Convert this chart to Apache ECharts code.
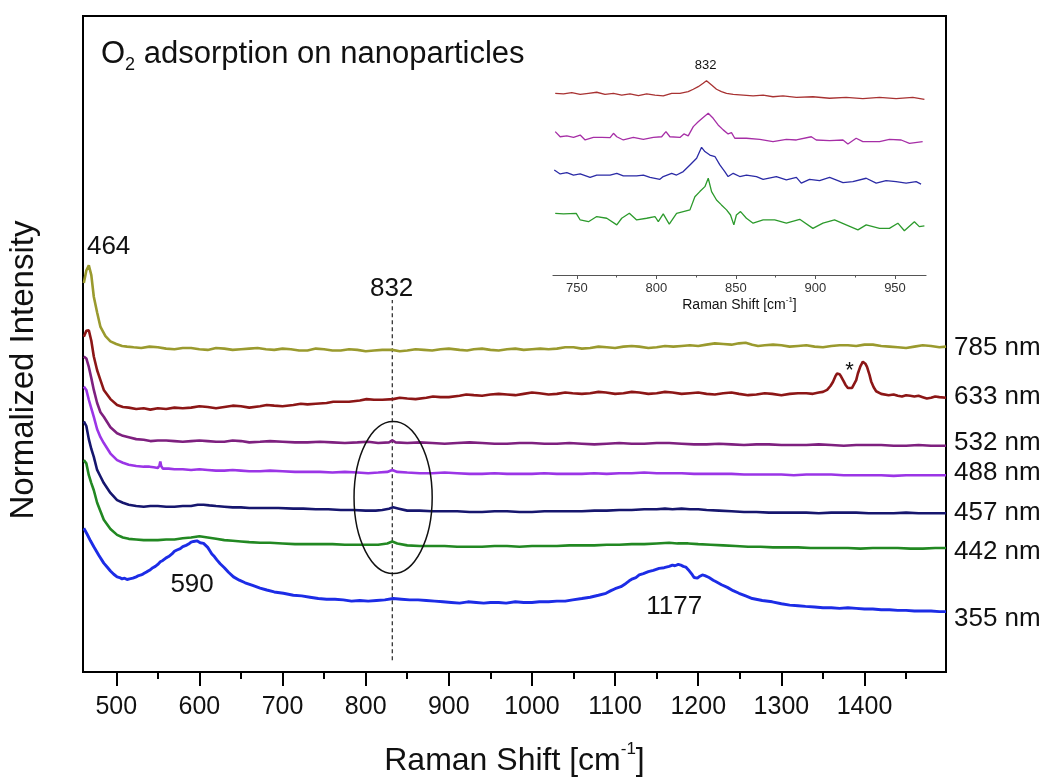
<!DOCTYPE html>
<html>
<head>
<meta charset="utf-8">
<title>O2 adsorption on nanoparticles</title>
<script src="https://cdn.jsdelivr.net/npm/echarts@6/dist/echarts.min.js"></script>
<style>
  html, body { margin: 0; padding: 0; background: #fff; }
  #chart { width: 1046px; height: 778px; }
</style>
</head>
<body>
<div id="chart"></div>
<script>
// main spectra, [Raman shift (cm-1), normalized intensity + stack offset]
const spec785 = [[461, 59.3], [464, 61.2], [467, 62.0], [470, 60.5], [473, 57.2], [477, 54.8], [481, 52.6], [487, 51.2], [493, 50.4], [500, 50.0], [507, 49.7], [513, 49.6], [521, 49.5], [530, 49.4], [540, 49.6], [550, 49.5], [560, 49.3], [570, 49.2], [580, 49.4], [590, 49.4], [600, 49.2], [610, 49.1], [620, 49.4], [630, 49.3], [640, 49.1], [650, 49.2], [660, 49.3], [670, 49.4], [680, 49.2], [690, 49.1], [700, 49.3], [710, 49.2], [720, 49.0], [730, 49.0], [740, 49.3], [750, 49.2], [760, 49.0], [770, 49.0], [780, 49.2], [790, 49.1], [800, 48.9], [810, 49.0], [820, 49.1], [832, 49.1], [841, 48.9], [850, 49.0], [860, 49.2], [870, 49.1], [880, 49.0], [890, 49.2], [900, 49.3], [913, 49.1], [922, 49.0], [930, 49.2], [940, 49.3], [950, 49.1], [960, 49.0], [970, 49.2], [980, 49.3], [990, 49.1], [1000, 49.2], [1010, 49.3], [1020, 49.2], [1030, 49.3], [1040, 49.5], [1050, 49.5], [1060, 49.3], [1070, 49.4], [1080, 49.6], [1090, 49.5], [1100, 49.4], [1110, 49.6], [1120, 49.7], [1129, 49.6], [1140, 49.4], [1150, 49.5], [1160, 49.7], [1170, 49.6], [1180, 49.7], [1190, 49.8], [1200, 49.7], [1210, 49.9], [1220, 50.1], [1230, 50.0], [1240, 49.9], [1249, 50.1], [1257, 50.2], [1265, 49.9], [1272, 49.7], [1280, 49.8], [1290, 49.9], [1300, 49.8], [1310, 49.6], [1320, 49.7], [1330, 49.8], [1340, 49.6], [1350, 49.5], [1360, 49.7], [1370, 49.8], [1380, 49.8], [1390, 49.7], [1400, 49.9], [1410, 49.9], [1420, 49.7], [1430, 49.6], [1440, 49.5], [1450, 49.4], [1460, 49.6], [1470, 49.8], [1480, 49.7], [1490, 49.5], [1498, 49.6]];
const spec633 = [[461, 51.1], [464, 52.0], [467, 52.1], [470, 50.5], [473, 48.1], [477, 46.0], [481, 44.5], [485, 43.0], [493, 41.6], [501, 40.7], [508, 40.4], [515, 40.3], [524, 40.1], [533, 40.2], [541, 40.0], [550, 40.2], [560, 40.1], [570, 40.3], [580, 40.2], [590, 40.3], [600, 40.5], [610, 40.4], [620, 40.2], [630, 40.4], [640, 40.6], [650, 40.5], [660, 40.3], [673, 40.5], [681, 40.7], [690, 40.6], [700, 40.5], [713, 40.7], [722, 40.9], [730, 40.8], [740, 40.9], [753, 41.0], [761, 41.2], [770, 41.2], [780, 41.2], [793, 41.4], [801, 41.6], [810, 41.5], [820, 41.5], [833, 41.6], [841, 41.8], [850, 41.7], [860, 41.6], [873, 41.8], [881, 42.0], [890, 41.9], [900, 41.9], [913, 42.1], [921, 42.3], [930, 42.2], [940, 42.1], [950, 42.3], [960, 42.4], [970, 42.3], [980, 42.2], [990, 42.4], [1000, 42.6], [1009, 42.5], [1020, 42.3], [1030, 42.4], [1040, 42.6], [1049, 42.5], [1060, 42.4], [1070, 42.5], [1080, 42.7], [1089, 42.6], [1100, 42.4], [1110, 42.5], [1120, 42.7], [1129, 42.6], [1140, 42.4], [1150, 42.5], [1160, 42.7], [1169, 42.6], [1180, 42.4], [1190, 42.5], [1200, 42.6], [1210, 42.4], [1220, 42.3], [1230, 42.5], [1240, 42.6], [1249, 42.4], [1260, 42.2], [1270, 42.3], [1280, 42.5], [1289, 42.4], [1300, 42.2], [1310, 42.4], [1320, 42.5], [1330, 42.5], [1338, 42.4], [1345, 42.6], [1350, 42.7], [1355, 43.0], [1359, 43.6], [1362, 44.2], [1365, 45.1], [1367, 45.5], [1370, 45.4], [1372, 45.0], [1375, 44.3], [1377, 43.8], [1380, 43.3], [1382, 43.2], [1385, 43.3], [1387, 43.6], [1390, 44.5], [1392, 45.5], [1395, 46.6], [1398, 47.3], [1401, 47.0], [1403, 46.5], [1406, 45.3], [1408, 44.3], [1411, 43.4], [1414, 42.8], [1420, 42.4], [1429, 42.2], [1435, 42.3], [1440, 42.1], [1445, 42.0], [1450, 42.2], [1455, 42.1], [1460, 42.0], [1465, 42.1], [1470, 41.9], [1475, 41.7], [1480, 41.8], [1485, 42.0], [1490, 41.9], [1498, 41.8]];
const spec532 = [[461, 48.1], [464, 47.8], [467, 46.5], [470, 44.8], [473, 43.0], [477, 41.0], [481, 39.6], [485, 38.9], [493, 37.3], [501, 36.4], [508, 36.0], [515, 35.8], [524, 35.5], [533, 35.4], [541, 35.2], [550, 35.3], [560, 35.3], [570, 35.2], [580, 35.1], [590, 35.2], [600, 35.3], [610, 35.2], [620, 35.1], [630, 35.1], [640, 35.3], [650, 35.2], [660, 35.0], [673, 35.1], [685, 35.2], [700, 35.1], [715, 35.0], [730, 35.0], [745, 35.1], [760, 35.0], [775, 34.9], [790, 35.0], [803, 35.1], [815, 34.9], [828, 35.0], [832, 35.3], [836, 35.0], [850, 34.9], [865, 35.0], [880, 34.9], [895, 34.8], [910, 34.9], [925, 35.0], [940, 34.9], [955, 34.8], [970, 34.8], [985, 34.9], [1000, 34.9], [1015, 34.8], [1030, 34.8], [1045, 34.9], [1060, 34.8], [1075, 34.7], [1090, 34.8], [1105, 34.9], [1120, 34.8], [1135, 34.8], [1150, 34.9], [1165, 34.9], [1180, 34.8], [1195, 34.7], [1210, 34.7], [1225, 34.8], [1240, 34.7], [1255, 34.6], [1270, 34.7], [1285, 34.7], [1300, 34.6], [1315, 34.6], [1330, 34.6], [1345, 34.7], [1360, 34.6], [1375, 34.5], [1390, 34.6], [1405, 34.6], [1420, 34.6], [1435, 34.5], [1450, 34.5], [1465, 34.6], [1480, 34.5], [1498, 34.5]];
const spec488 = [[461, 43.5], [464, 43.0], [467, 41.5], [470, 40.2], [473, 38.9], [477, 37.0], [481, 35.8], [485, 34.9], [493, 33.3], [501, 32.3], [508, 31.9], [515, 31.6], [524, 31.4], [533, 31.3], [540, 31.3], [545, 31.2], [550, 31.1], [552, 31.5], [553, 32.1], [554, 31.4], [556, 31.0], [563, 31.0], [570, 30.9], [580, 30.9], [590, 30.8], [600, 30.9], [610, 30.8], [620, 30.7], [630, 30.7], [640, 30.8], [650, 30.7], [660, 30.6], [673, 30.6], [685, 30.7], [700, 30.6], [715, 30.5], [730, 30.5], [745, 30.5], [760, 30.4], [775, 30.5], [790, 30.4], [803, 30.3], [815, 30.4], [826, 30.5], [832, 30.8], [838, 30.5], [850, 30.4], [865, 30.3], [880, 30.3], [895, 30.4], [910, 30.3], [925, 30.2], [940, 30.2], [955, 30.3], [970, 30.2], [985, 30.2], [1000, 30.2], [1015, 30.3], [1030, 30.2], [1045, 30.2], [1060, 30.2], [1075, 30.3], [1090, 30.2], [1105, 30.3], [1120, 30.3], [1135, 30.4], [1150, 30.3], [1165, 30.3], [1180, 30.3], [1195, 30.2], [1210, 30.2], [1225, 30.2], [1240, 30.2], [1255, 30.1], [1270, 30.1], [1285, 30.1], [1300, 30.1], [1315, 30.0], [1330, 30.1], [1345, 30.1], [1360, 30.1], [1375, 30.0], [1390, 30.0], [1405, 30.0], [1420, 30.0], [1435, 29.9], [1450, 30.0], [1465, 30.0], [1480, 30.0], [1498, 30.0]];
const spec457 = [[461, 38.2], [464, 37.5], [467, 35.5], [470, 34.0], [473, 32.8], [477, 30.8], [481, 29.8], [485, 28.8], [493, 27.3], [501, 26.2], [508, 25.8], [515, 25.5], [524, 25.3], [533, 25.2], [541, 25.3], [550, 25.3], [560, 25.2], [570, 25.2], [580, 25.3], [590, 25.3], [598, 25.5], [605, 25.5], [612, 25.4], [620, 25.3], [630, 25.2], [640, 25.1], [650, 25.1], [660, 25.0], [670, 25.0], [680, 25.0], [695, 25.0], [713, 24.9], [725, 24.9], [740, 24.8], [755, 24.8], [770, 24.7], [785, 24.7], [800, 24.6], [812, 24.6], [820, 24.7], [828, 24.9], [833, 25.1], [840, 24.9], [850, 24.6], [865, 24.6], [880, 24.5], [895, 24.5], [910, 24.5], [925, 24.4], [940, 24.4], [955, 24.5], [970, 24.5], [985, 24.4], [1000, 24.4], [1015, 24.5], [1030, 24.5], [1045, 24.5], [1060, 24.5], [1075, 24.6], [1090, 24.6], [1105, 24.7], [1120, 24.7], [1135, 24.8], [1150, 24.8], [1160, 24.9], [1169, 24.8], [1180, 24.9], [1190, 24.8], [1200, 24.8], [1210, 24.7], [1225, 24.6], [1240, 24.5], [1255, 24.4], [1270, 24.4], [1285, 24.3], [1300, 24.3], [1315, 24.3], [1330, 24.3], [1345, 24.2], [1360, 24.3], [1375, 24.3], [1390, 24.3], [1405, 24.2], [1420, 24.2], [1435, 24.2], [1450, 24.3], [1465, 24.2], [1480, 24.2], [1498, 24.2]];
const spec442 = [[461, 32.3], [464, 31.8], [467, 30.0], [470, 28.8], [473, 27.7], [477, 25.8], [481, 24.5], [485, 23.2], [493, 21.8], [501, 20.9], [508, 20.5], [515, 20.3], [524, 20.2], [533, 20.1], [541, 20.1], [550, 20.1], [560, 20.2], [570, 20.2], [580, 20.4], [590, 20.5], [600, 20.7], [610, 20.5], [620, 20.3], [630, 20.1], [640, 20.0], [650, 19.9], [660, 19.8], [673, 19.7], [685, 19.7], [700, 19.6], [715, 19.5], [730, 19.5], [745, 19.5], [760, 19.5], [775, 19.4], [790, 19.4], [803, 19.4], [815, 19.4], [826, 19.6], [832, 19.9], [838, 19.6], [850, 19.3], [865, 19.2], [880, 19.2], [895, 19.2], [910, 19.1], [925, 19.1], [940, 19.1], [955, 19.2], [970, 19.2], [985, 19.1], [1000, 19.2], [1015, 19.2], [1030, 19.2], [1045, 19.3], [1060, 19.3], [1075, 19.3], [1090, 19.4], [1105, 19.4], [1120, 19.5], [1135, 19.5], [1150, 19.6], [1165, 19.7], [1175, 19.6], [1188, 19.6], [1200, 19.5], [1215, 19.4], [1230, 19.3], [1245, 19.2], [1260, 19.1], [1275, 19.1], [1290, 19.0], [1305, 19.0], [1320, 19.0], [1335, 18.9], [1350, 18.9], [1365, 18.9], [1380, 18.9], [1395, 18.8], [1410, 18.9], [1425, 18.9], [1440, 18.9], [1455, 18.8], [1470, 18.8], [1485, 18.9], [1498, 18.9]];
const spec355 = [[461, 21.9], [465, 21.0], [469, 20.0], [473, 19.1], [479, 17.8], [485, 16.6], [489, 16.0], [493, 15.4], [497, 14.9], [501, 14.5], [504, 14.4], [507, 14.2], [510, 14.3], [513, 14.1], [516, 14.2], [520, 14.3], [524, 14.5], [527, 14.7], [530, 14.8], [533, 15.0], [537, 15.3], [540, 15.5], [544, 15.9], [547, 16.1], [550, 16.4], [553, 16.8], [556, 17.0], [560, 17.4], [563, 17.6], [567, 18.0], [570, 18.4], [573, 18.6], [577, 18.8], [580, 19.1], [584, 19.3], [587, 19.5], [590, 19.8], [593, 19.9], [595, 19.6], [597, 20.0], [599, 19.8], [601, 19.7], [603, 19.9], [605, 19.6], [607, 19.4], [610, 19.0], [612, 18.6], [615, 18.0], [618, 17.6], [621, 17.1], [625, 16.5], [630, 15.9], [635, 15.2], [641, 14.5], [648, 14.0], [655, 13.6], [664, 13.2], [673, 12.8], [681, 12.5], [690, 12.2], [701, 12.0], [713, 11.7], [723, 11.6], [733, 11.4], [743, 11.2], [753, 11.1], [763, 11.1], [773, 11.0], [783, 10.8], [793, 10.9], [803, 10.8], [813, 10.9], [823, 11.0], [833, 11.2], [843, 11.1], [853, 11.0], [863, 11.0], [873, 10.9], [883, 10.8], [893, 10.7], [903, 10.6], [913, 10.5], [923, 10.7], [933, 10.6], [942, 10.5], [950, 10.6], [960, 10.6], [969, 10.5], [980, 10.7], [990, 10.6], [1000, 10.6], [1009, 10.7], [1020, 10.7], [1030, 10.8], [1040, 10.8], [1049, 11.0], [1060, 11.2], [1070, 11.4], [1080, 11.7], [1089, 12.0], [1095, 12.4], [1100, 12.7], [1107, 13.0], [1113, 13.5], [1117, 13.9], [1121, 14.2], [1125, 14.4], [1129, 14.8], [1134, 15.0], [1140, 15.3], [1146, 15.5], [1153, 15.8], [1159, 15.9], [1165, 16.1], [1169, 16.3], [1172, 16.2], [1176, 16.4], [1179, 16.3], [1182, 16.1], [1185, 16.0], [1188, 15.6], [1190, 15.3], [1193, 14.8], [1195, 14.4], [1197, 14.3], [1199, 14.3], [1202, 14.6], [1205, 14.8], [1208, 14.7], [1210, 14.6], [1213, 14.4], [1215, 14.2], [1218, 14.0], [1221, 13.8], [1228, 13.3], [1235, 12.9], [1242, 12.4], [1249, 12.0], [1257, 11.6], [1265, 11.2], [1277, 10.9], [1289, 10.7], [1300, 10.4], [1310, 10.2], [1320, 10.1], [1329, 10.0], [1340, 9.9], [1350, 9.8], [1360, 9.8], [1370, 9.7], [1380, 9.8], [1390, 9.7], [1400, 9.6], [1410, 9.6], [1420, 9.5], [1430, 9.5], [1440, 9.4], [1450, 9.4], [1460, 9.3], [1470, 9.3], [1480, 9.3], [1490, 9.2], [1498, 9.2]];

const laserNames = ['785 nm', '633 nm', '532 nm', '488 nm', '457 nm', '442 nm', '355 nm'];
const laserColors = ['#9a9a2e', '#8c1616', '#7e207f', '#9b35e6', '#16166e', '#228822', '#1c2ce6'];
const labelShift = [1, -1, -3, -2, 0, 4, 7];

// peak labels [x, y, text]
const peakLabels = [[490.8, 64.8, '464'], [831.2, 58.4, '832'], [591.2, 13.3, '590'], [1171.2, 9.9, '1177']];
const starLabel = [[1382, 45.9, '*']];
const marker832 = [[832, 1.8], [832, 56.7]];
const ring832 = [[833, 26.6, 47, 11.6]]; // cx, cy, rx, ry in data units

const xTicksMain = [500, 600, 700, 800, 900, 1000, 1100, 1200, 1300, 1400];
const xMinorMain = [550, 650, 750, 850, 950, 1050, 1150, 1250, 1350, 1450];

// inset, zoom on 735-970 cm-1
const inset633 = [[736.4, 84.5], [741.6, 84.2], [746.8, 84.8], [752.1, 84.0], [757.3, 84.5], [762.5, 85.0], [767.7, 84.0], [773.0, 84.5], [778.2, 83.7], [783.4, 84.2], [788.7, 83.4], [793.9, 84.2], [799.1, 83.7], [804.3, 83.3], [809.6, 84.5], [814.8, 84.5], [820.0, 85.3], [823.2, 86.4], [826.3, 87.6], [829.4, 89.2], [831.5, 90.4], [834.7, 88.4], [837.8, 86.4], [840.9, 85.3], [844.1, 84.5], [848.3, 84.0], [854.5, 83.7], [860.8, 83.3], [867.1, 83.7], [873.3, 82.9], [879.6, 83.3], [888.0, 82.6], [898.4, 82.9], [908.9, 82.2], [919.3, 82.6], [929.8, 82.0], [940.3, 82.6], [950.7, 82.0], [961.2, 82.6], [968.5, 81.7]];
const inset532 = [[736.4, 66.7], [739.5, 64.3], [743.7, 64.7], [747.9, 64.0], [752.1, 65.1], [755.2, 62.8], [760.4, 64.0], [765.7, 64.0], [770.9, 63.9], [773.0, 65.9], [775.1, 64.3], [779.2, 62.8], [785.5, 64.0], [791.8, 63.1], [798.1, 64.0], [803.3, 64.3], [806.0, 66.7], [808.5, 64.3], [814.8, 64.0], [817.3, 65.6], [820.0, 64.7], [823.2, 69.0], [826.3, 71.3], [829.4, 73.3], [832.6, 75.2], [835.7, 72.9], [838.8, 69.8], [842.0, 67.5], [845.1, 65.6], [847.2, 66.2], [849.3, 63.6], [856.6, 63.6], [865.0, 63.1], [873.3, 62.0], [881.7, 63.1], [888.0, 62.8], [897.4, 64.3], [900.5, 62.8], [908.9, 62.5], [917.3, 62.8], [920.4, 60.9], [925.6, 63.6], [929.8, 62.0], [940.3, 62.0], [946.5, 63.1], [953.9, 62.8], [959.1, 61.2], [967.4, 62.0]];
const inset457 = [[735.8, 48.8], [739.5, 47.0], [743.7, 47.6], [747.9, 46.5], [752.1, 47.0], [758.3, 45.4], [762.5, 46.5], [770.9, 46.5], [775.1, 47.3], [779.2, 46.1], [787.6, 46.1], [791.8, 46.5], [796.0, 45.4], [802.2, 44.5], [804.3, 45.8], [809.6, 47.3], [812.7, 46.5], [816.9, 48.1], [821.1, 51.2], [825.3, 54.3], [828.4, 59.4], [830.5, 57.4], [833.6, 55.8], [836.8, 55.1], [839.9, 51.2], [843.0, 48.1], [845.1, 45.8], [848.3, 47.3], [852.4, 45.8], [856.6, 46.5], [862.9, 45.8], [867.1, 44.5], [875.4, 45.8], [881.7, 44.2], [888.0, 45.4], [891.1, 42.7], [896.3, 44.5], [902.6, 43.9], [908.9, 45.4], [917.3, 43.0], [923.5, 43.4], [931.9, 45.0], [938.2, 42.7], [944.4, 43.9], [950.7, 43.4], [957.0, 42.7], [963.3, 43.4], [966.4, 42.3]];
const inset442 = [[736.4, 28.7], [741.6, 28.4], [749.6, 28.7], [752.1, 25.6], [757.3, 24.8], [762.5, 27.2], [768.8, 26.4], [775.1, 23.3], [778.2, 26.4], [783.0, 28.7], [787.6, 25.6], [793.9, 26.4], [799.1, 27.2], [801.2, 24.8], [804.3, 28.4], [808.1, 23.7], [812.7, 28.7], [816.9, 29.5], [821.1, 30.3], [824.2, 36.4], [827.3, 38.8], [830.5, 41.1], [832.6, 45.0], [834.7, 38.8], [837.8, 34.9], [840.9, 32.6], [844.1, 30.3], [846.6, 27.9], [848.7, 23.3], [850.3, 27.9], [852.9, 29.5], [856.6, 26.4], [860.8, 24.1], [867.1, 25.6], [874.4, 25.6], [881.7, 24.1], [890.1, 25.9], [898.4, 21.7], [904.7, 24.1], [912.0, 25.6], [919.3, 23.3], [926.7, 21.0], [931.9, 23.3], [940.3, 21.7], [946.5, 21.7], [951.8, 24.1], [955.9, 20.6], [962.2, 24.8], [965.3, 22.5], [968.5, 22.8]];
const insetColors = ['#a83232', '#a62ea6', '#2b2ba6', '#2c9a2c'];
const insetPeak = [[830.9, 97.7, '832']];
const xTicksInset = [750, 800, 850, 900, 950];
const xMinorInset = [775, 825, 875, 925];

const FONT = "'Liberation Sans', Arial, sans-serif";
const chart = echarts.init(document.getElementById('chart'), null, {renderer: 'canvas'});

const mainSpectra = [spec785, spec633, spec532, spec488, spec457, spec442, spec355];
const insetSpectra = [inset633, inset532, inset457, inset442];

const lineSeries = mainSpectra.map((d, i) => ({
  name: laserNames[i],
  type: 'line',
  xAxisIndex: 0,
  yAxisIndex: 0,
  data: d,
  symbol: 'none',
  z: 3,
  lineStyle: {color: laserColors[i], width: i === 6 ? 2.9 : 2.6},
  itemStyle: {color: laserColors[i]},
  endLabel: {
    show: true,
    formatter: '{a}',
    distance: 8,
    offset: [0, labelShift[i]],
    color: '#111',
    fontSize: 26,
    fontFamily: FONT
  }
}))

const insetSeries = insetSpectra.map((d, i) => ({
  type: 'line',
  xAxisIndex: 2,
  yAxisIndex: 1,
  data: d,
  symbol: 'none',
  lineStyle: {color: insetColors[i], width: 1.3}
}))

const textScatter = (data, xi, yi, size) => ({
  type: 'scatter',
  xAxisIndex: xi,
  yAxisIndex: yi,
  data: data,
  symbolSize: 1,
  itemStyle: {color: 'rgba(0,0,0,0)', opacity: 1},
  silent: true,
  z: 6,
  label: {
    show: true,
    position: 'inside',
    formatter: p => p.data[2],
    color: '#111',
    opacity: 1,
    fontSize: size,
    fontFamily: FONT
  }
})

const cmName = (big, small, lh, slh) => ({
  name: '{t|Raman Shift [cm}{s|-1}{t|]}',
  nameTextStyle: {
    rich: {
      t: {fontSize: big, lineHeight: lh, color: '#111', fontFamily: FONT},
      s: {fontSize: small, lineHeight: slh, verticalAlign: 'top', color: '#111', fontFamily: FONT}
    }
  }
})

const plain = v => String(v)

chart.setOption({
  animation: false,
  backgroundColor: '#fff',
  textStyle: {fontFamily: FONT},
  grid: [
    {left: 83, top: 16, width: 863, height: 656, outerBoundsMode: 'none', containLabel: false, show: true, borderColor: '#000', borderWidth: 2},
    {left: 553, top: 60, width: 373, height: 215, outerBoundsMode: 'none', containLabel: false}
  ],
  xAxis: [
    Object.assign({
      type: 'value', gridIndex: 0, min: 460, max: 1498, position: 'bottom',
      nameLocation: 'middle', nameGap: 69,
      axisLine: {show: false},
      splitLine: {show: false},
      axisTick: {show: true, customValues: xTicksMain, length: 14, lineStyle: {color: '#000', width: 2}},
      axisLabel: {show: true, customValues: xTicksMain, formatter: plain, margin: 23, fontSize: 25, color: '#111', fontFamily: FONT}
    }, cmName(32, 17, 40, 22)),
    {
      type: 'value', gridIndex: 0, min: 460, max: 1498, position: 'bottom',
      axisLine: {show: false},
      splitLine: {show: false},
      axisLabel: {show: false},
      axisTick: {show: true, customValues: xMinorMain, length: 7, lineStyle: {color: '#000', width: 2}}
    },
    Object.assign({
      type: 'value', gridIndex: 1, min: 735, max: 969.5, position: 'bottom',
      nameLocation: 'middle', nameGap: 19,
      axisLine: {show: true, lineStyle: {color: '#555', width: 1.2}},
      splitLine: {show: false},
      axisTick: {show: true, customValues: xTicksInset, length: 4, lineStyle: {color: '#555', width: 1}},
      axisLabel: {show: true, customValues: xTicksInset, formatter: plain, margin: 7, fontSize: 13, color: '#333', fontFamily: FONT}
    }, cmName(14, 8, 18, 10)),
    {
      type: 'value', gridIndex: 1, min: 735, max: 969.5, position: 'bottom',
      axisLine: {show: false},
      splitLine: {show: false},
      axisLabel: {show: false},
      axisTick: {show: true, customValues: xMinorInset, length: 2.5, lineStyle: {color: '#555', width: 1}}
    }
  ],
  yAxis: [
    {type: 'value', gridIndex: 0, min: 0, max: 100, show: false},
    {type: 'value', gridIndex: 1, min: 0, max: 100, show: false}
  ],
  graphic: [
    {
      type: 'text', x: 101, y: 34,
      style: {
        text: '{o|O}{s|2}{o| adsorption on nanoparticles}',
        align: 'left', verticalAlign: 'top',
        rich: {
          o: {fontSize: 31, lineHeight: 40, fill: '#111', fontFamily: FONT},
          s: {fontSize: 18, lineHeight: 10, verticalAlign: 'bottom', fill: '#111', fontFamily: FONT}
        }
      }
    },
    {
      type: 'text', x: 24, y: 370, rotation: Math.PI / 2,
      style: {text: 'Normalized Intensity', fontSize: 33, fill: '#111', align: 'center', verticalAlign: 'middle', fontFamily: FONT}
    }
  ],
  series: [
    {
      type: 'line', xAxisIndex: 0, yAxisIndex: 0, data: marker832, symbol: 'none', silent: true, z: 2,
      lineStyle: {color: '#222', width: 1.2, type: [4, 3]}
    },
    {
      type: 'custom', xAxisIndex: 0, yAxisIndex: 0, data: ring832, silent: true, z: 4,
      renderItem: (params, api) => {
        const c = api.coord([api.value(0), api.value(1)])
        const s = api.size([api.value(2), api.value(3)])
        return {
          type: 'ellipse',
          shape: {cx: c[0], cy: c[1], rx: s[0], ry: s[1]},
          style: {fill: 'none', stroke: '#111', lineWidth: 1.5}
        }
      }
    },
    ...lineSeries,
    ...insetSeries,
    textScatter(peakLabels, 0, 0, 26),
    textScatter(starLabel, 0, 0, 22),
    textScatter(insetPeak, 2, 1, 13)
  ]
})
</script>
</body>
</html>
